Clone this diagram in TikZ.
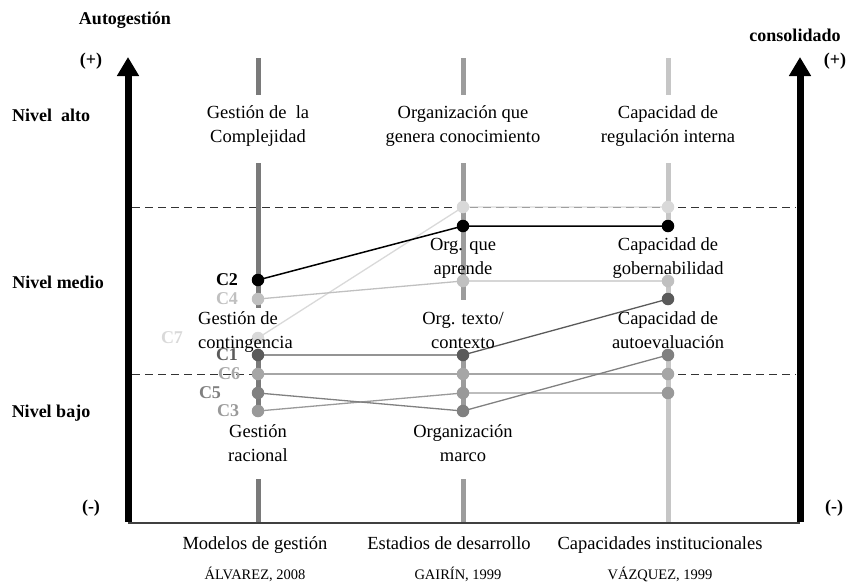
\documentclass[tikz,border=0pt]{standalone}
\usepackage{fontspec}
\setmainfont{Liberation Serif}
\usetikzlibrary{arrows.meta}
\definecolor{colA}{HTML}{7A7A7A}
\definecolor{colB}{HTML}{9C9C9C}
\definecolor{colC}{HTML}{C6C6C6}
\definecolor{sCtwo}{HTML}{000000}
\definecolor{sCfour}{HTML}{C0C0C0}
\definecolor{sCseven}{HTML}{D9D9D9}
\definecolor{sCone}{HTML}{5A5A5A}
\definecolor{sCsix}{HTML}{A6A6A6}
\definecolor{sCfive}{HTML}{808080}
\definecolor{sCthree}{HTML}{999999}
\begin{document}
\begin{tikzpicture}[x=1pt,y=-1pt,
  lbl/.style={font=\fontsize{18.5}{24}\selectfont, align=center, inner sep=0pt,
    execute at begin node=\strut, execute at end node=\strut},
  bld/.style={font=\fontsize{18}{20}\selectfont\bfseries, inner sep=0pt},
  src/.style={font=\fontsize{14.5}{18}\selectfont, inner sep=0pt,
    execute at begin node=\strut},
  dot/.style={circle, fill=#1, inner sep=0pt, minimum size=12.5pt},
  ser/.style={draw=#1, line width=1.3pt},
  colseg/.style={draw=#1, line width=5pt},
  bigarrow/.style={line width=7pt, -{Triangle[width=21pt,length=19pt]}},
  dashline/.style={draw=black!80, line width=1pt, dash pattern=on 8pt off 5pt}]
\useasboundingbox (0,0) rectangle (848,582);

% axes
\coordinate (lb) at (128,523);
\coordinate (lt) at (128,57);
\coordinate (rb) at (800,523);
\coordinate (rt) at (800,57);
\draw[line width=1.6pt, black!75] (lb) -- (rb);
\draw[bigarrow] ([yshift=1pt]lb) -- (lt);
\draw[bigarrow] ([yshift=1pt]rb) -- (rt);

% dashed level lines
\coordinate (dal) at (132,207);
\coordinate (dar) at (796,207);
\coordinate (dbl) at (132,374);
\coordinate (dbr) at (796,374);
\draw[dashline] (dal) -- (dar);
\draw[dashline] (dbl) -- (dbr);

% column lines
\draw[colseg=colA] (258,58) -- (258,95);
\draw[colseg=colA] (258,163) -- (258,308);
\draw[colseg=colA] (258,355) -- (258,411);
\draw[colseg=colA] (258,479) -- (258,522);
\draw[colseg=colB] (463,58) -- (463,95);
\draw[colseg=colB] (463,163) -- (463,300);
\draw[colseg=colB] (463,355) -- (463,411);
\draw[colseg=colB] (463,479) -- (463,522);
\draw[colseg=colC] (668,58) -- (668,95);
\draw[colseg=colC] (668,163) -- (668,230);
\draw[colseg=colC] (668,279) -- (668,302);
\draw[colseg=colC] (668,355) -- (668,522);

% data coordinates
\coordinate (c2a) at (258,280); \coordinate (c2b) at (463,226); \coordinate (c2c) at (668,226);
\coordinate (c4a) at (258,299); \coordinate (c4b) at (463,281); \coordinate (c4c) at (668,281);
\coordinate (c7a) at (258,338); \coordinate (c7b) at (463,207); \coordinate (c7c) at (668,207);
\coordinate (c1a) at (258,355); \coordinate (c1b) at (463,355); \coordinate (c1c) at (668,299);
\coordinate (c6a) at (258,374); \coordinate (c6b) at (463,374); \coordinate (c6c) at (668,374);
\coordinate (c5a) at (258,393); \coordinate (c5b) at (463,411); \coordinate (c5c) at (668,355);
\coordinate (c3a) at (258,411); \coordinate (c3b) at (463,393); \coordinate (c3c) at (668,393);

% series lines
\draw[ser=sCseven] (c7a) -- (c7b) -- (c7c);
\draw[ser=sCfour] (c4a) -- (c4b) -- (c4c);
\draw[ser=sCsix] (c6a) -- (c6b) -- (c6c);
\draw[ser=sCthree] (c3a) -- (c3b) -- (c3c);
\draw[ser=sCfive] (c5a) -- (c5b) -- (c5c);
\draw[ser=sCone] (c1a) -- (c1b) -- (c1c);
\draw[ser=sCtwo, line width=1.5pt] (c2a) -- (c2b) -- (c2c);

% dots
\foreach \p in {c7a,c7b,c7c} \node[dot=sCseven] at (\p) {};
\foreach \p in {c4a,c4b,c4c} \node[dot=sCfour] at (\p) {};
\foreach \p in {c6a,c6b,c6c} \node[dot=sCsix] at (\p) {};
\foreach \p in {c3a,c3b,c3c} \node[dot=sCthree] at (\p) {};
\foreach \p in {c5a,c5b,c5c} \node[dot=sCfive] at (\p) {};
\foreach \p in {c1a,c1b,c1c} \node[dot=sCone] at (\p) {};
\foreach \p in {c2a,c2b,c2c} \node[dot=sCtwo] at (\p) {};

% series labels
\node[bld, text=sCtwo] (l2) at (227,280) {C2};
\node[bld, text=sCfour] (l4) at (227,299) {C4};
\node[bld, text=sCseven] (l7) at (172,338) {C7};
\node[bld, text=sCone] (l1) at (227,355) {C1};
\node[bld, text=sCsix] (l6) at (229,374) {C6};
\node[bld, text=sCfive] (l5) at (210,393) {C5};
\node[bld, text=sCthree] (l3) at (228,411) {C3};

% axis texts
\node[bld] (auto) at (125,20) {Autogestión};
\node[bld] (cons) at (795,35) {consolidado};
\node[bld] (pl) at (91,61) {(+)};
\node[bld] (pr) at (835,61) {(+)};
\node[bld] (ml) at (91,508) {(-)};
\node[bld] (mr) at (834,508) {(-)};
\node[bld] (na) at (51,115) {Nivel\ \ alto};
\node[bld] (nm) at (58,282) {Nivel medio};
\node[bld] (nb) at (51,413) {Nivel bajo};

% column titles
\node[lbl] (t1) at (258,128) {Gestión de\ \ la\\Complejidad};
\node[lbl] (t2) at (463,128) {Organización que\\genera conocimiento};
\node[lbl] (t3) at (668,128) {Capacidad de\\regulación interna};

% stage labels
\node[lbl] (m2) at (463,260) {Org. que\\aprende};
\node[lbl] (m3) at (668,260) {Capacidad de\\gobernabilidad};
\node[lbl, align=left, anchor=west] (k1) at (198,334) {Gestión de\\contingencia};
\node[lbl] (k2) at (463,334) {Org. texto/\\contexto};
\node[lbl] (k3) at (668,334) {Capacidad de\\autoevaluación};
\node[lbl] (b1) at (258,447) {Gestión\\racional};
\node[lbl] (b2) at (463,447) {Organización\\marco};

% bottom captions
\node[lbl] (f1) at (255,545) {Modelos de gestión};
\node[lbl] (f2) at (449,545) {Estadios de desarrollo};
\node[lbl] (f3) at (660,545) {Capacidades institucionales};
\node[src] (s1) at (255,576) {ÁLVAREZ, 2008};
\node[src] (s2) at (458,576) {GAIRÍN, 1999};
\node[src] (s3) at (660,576) {VÁZQUEZ, 1999};
\end{tikzpicture}
\end{document}
